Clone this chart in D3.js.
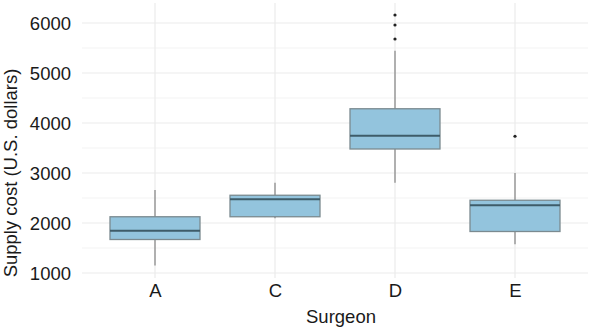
<!DOCTYPE html>
<html>
<head>
<meta charset="utf-8">
<script src="https://cdn.jsdelivr.net/npm/d3@7"></script>
<style>
    body { margin: 0; background: #fff; }
    text { font-family: "Liberation Sans", Arial, sans-serif; fill: #1a1a1a; }
</style>
</head>
<body>
<svg id="chart" width="590" height="330"></svg>
<script>
const surgeons = ["A", "C", "D", "E"]
const whiskerLow = [1150, 2095, 2805, 1575]
const q1 = [1670, 2125, 3480, 1830]
const median = [1845, 2475, 3745, 2355]
const q3 = [2125, 2555, 4285, 2455]
const whiskerHigh = [2660, 2805, 5445, 3000]
const outliers = [[], [], [5680, 5960, 6160], [3735]]
const yTicks = [1000, 2000, 3000, 4000, 5000, 6000]
const yMinor = [1500, 2500, 3500, 4500, 5500]

const svg = d3.select("#chart")
const panelLeft = 83, panelRight = 587, panelTop = 3, panelBottom = 278

let x = d3.scalePoint()
    .domain(surgeons)
    .range([panelLeft, panelRight])
    .padding(0.6)

let y = d3.scaleLinear()
    .domain([900, 6400])
    .range([panelBottom, panelTop])

const boxHalf = x.step() * 0.375

// grid
svg.append("g").selectAll("line")
    .data(yMinor)
    .join("line")
    .attr("x1", panelLeft - 1).attr("x2", panelRight + 1)
    .attr("y1", d => y(d)).attr("y2", d => y(d))
    .style("stroke", "#f3f3f3")
    .style("stroke-width", 1)

svg.append("g").selectAll("line")
    .data(yTicks)
    .join("line")
    .attr("x1", panelLeft - 1).attr("x2", panelRight + 1)
    .attr("y1", d => y(d)).attr("y2", d => y(d))
    .style("stroke", "#ebebeb")
    .style("stroke-width", 1.2)

svg.append("g").selectAll("line")
    .data(surgeons)
    .join("line")
    .attr("x1", d => x(d)).attr("x2", d => x(d))
    .attr("y1", panelTop).attr("y2", panelBottom)
    .style("stroke", "#ebebeb")
    .style("stroke-width", 1.2)

// axes (text only)
let yAxis = svg.append("g")
    .attr("transform", `translate(${panelLeft - 12}, 0)`)
    .call(d3.axisLeft(y).tickValues(yTicks).tickSize(0).tickFormat(d3.format("d")))
yAxis.select(".domain").remove()
yAxis.selectAll("text")
    .attr("dy", "0.36em")
    .attr("x", 0)
    .style("font-size", "18.5px")
    .style("fill", "#1a1a1a")

let xAxis = svg.append("g")
    .attr("transform", `translate(0, ${panelBottom})`)
    .call(d3.axisBottom(x).tickSize(0))
xAxis.select(".domain").remove()
xAxis.selectAll("text")
    .attr("y", 19)
    .attr("dy", 0)
    .style("font-size", "18.5px")
    .style("fill", "#1a1a1a")

svg.append("text")
    .attr("x", 341)
    .attr("y", 323)
    .attr("text-anchor", "middle")
    .style("font-size", "18.5px")
    .text("Surgeon")

svg.append("text")
    .attr("transform", "translate(17, 173) rotate(-90)")
    .attr("text-anchor", "middle")
    .style("font-size", "18.5px")
    .text("Supply cost (U.S. dollars)")

// boxes
let boxes = svg.append("g").selectAll("g")
    .data(surgeons)
    .join("g")

boxes.append("line")
    .attr("x1", d => x(d)).attr("x2", d => x(d))
    .attr("y1", (d, i) => y(whiskerHigh[i])).attr("y2", (d, i) => y(q3[i]))
    .style("stroke", "#8c8c8c").style("stroke-width", 1.3)

boxes.append("line")
    .attr("x1", d => x(d)).attr("x2", d => x(d))
    .attr("y1", (d, i) => y(q1[i])).attr("y2", (d, i) => y(whiskerLow[i]))
    .style("stroke", "#8c8c8c").style("stroke-width", 1.3)

boxes.append("rect")
    .attr("x", d => x(d) - boxHalf)
    .attr("width", boxHalf * 2)
    .attr("y", (d, i) => y(q3[i]))
    .attr("height", (d, i) => y(q1[i]) - y(q3[i]))
    .style("fill", "#93c4dd")
    .style("stroke", "#7b8a90")
    .style("stroke-width", 1.3)

boxes.append("line")
    .attr("x1", d => x(d) - boxHalf).attr("x2", d => x(d) + boxHalf)
    .attr("y1", (d, i) => y(median[i])).attr("y2", (d, i) => y(median[i]))
    .style("stroke", "#3e5c69").style("stroke-width", 2)

boxes.each(function(d, i) {
    d3.select(this).selectAll("circle")
        .data(outliers[i])
        .join("circle")
        .attr("cx", x(d))
        .attr("cy", v => y(v))
        .attr("r", 1.6)
        .style("fill", "#222")
})
</script>
</body>
</html>
